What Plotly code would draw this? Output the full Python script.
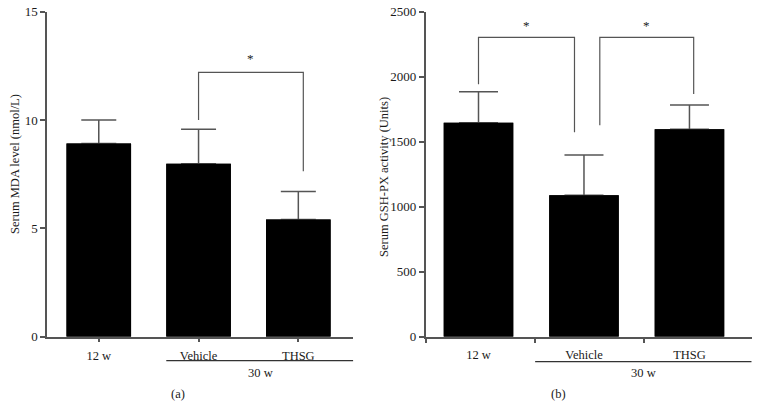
import plotly.graph_objects as go

# ---------------- data ----------------
groups = ["12 w", "Vehicle", "THSG"]
mda_mean = [8.92, 7.98, 5.41]
mda_err = [1.08, 1.60, 1.29]
gsh_mean = [1646, 1088, 1595]
gsh_err = [239, 310, 187]
mda_ticks = [0, 5, 10, 15]
gsh_ticks = [0, 500, 1000, 1500, 2000, 2500]
# significance brackets: (x_left, x_right, y_left_end, y_right_end, y_top)
mda_brackets = [(1.0, 2.05, 10.0, 7.64, 12.2)]
gsh_brackets = [(0.0, 0.91, 1941, 1572, 2303), (1.15, 2.04, 1626, 1867, 2303)]
sig_label = "*"
group_label = "30 w"
panel_labels = ["(a)", "(b)"]
ytitles = ["Serum MDA level (nmol/L)", "Serum GSH-PX activity (Units)"]

# ---------------- style ----------------
FONT = "Liberation Serif"
AX = "#555555"
TXT = "#1a1a1a"
W, H = 760, 420
xpos = list(range(len(groups)))

fig = go.Figure()

def add_bars(means, errs, xa, ya, width, capw):
    # bar with error bar (upper only)
    fig.add_trace(go.Bar(
        x=xpos, y=means, width=width, marker=dict(color="black", line=dict(width=0)),
        error_y=dict(type="data", array=errs, arrayminus=[0] * len(errs), symmetric=False,
                     color=AX, thickness=1.5, width=capw),
        xaxis=xa, yaxis=ya, showlegend=False, hoverinfo="skip"))
    # same bar again on top, hiding the lower cap of the error bar
    fig.add_trace(go.Bar(
        x=xpos, y=means, width=width, marker=dict(color="black", line=dict(width=0)),
        xaxis=xa, yaxis=ya, showlegend=False, hoverinfo="skip"))

def add_brackets(brs, xa, ya, shift):
    for (xl, xr, yl, yr, yt) in brs:
        fig.add_trace(go.Scatter(
            x=[xl, xl, xr, xr], y=[yl, yt, yt, yr], mode="lines",
            line=dict(color=AX, width=1.2), xaxis=xa, yaxis=ya,
            showlegend=False, hoverinfo="skip", cliponaxis=False))
        fig.add_annotation(x=(xl + xr) / 2, y=yt, xref=xa, yref=ya, text=sig_label,
                           xanchor="center", yanchor="middle",
                           showarrow=False, yshift=shift, font=dict(family=FONT, size=13, color=TXT))

add_bars(mda_mean, mda_err, "x", "y", 0.647, 17.5)
add_bars(gsh_mean, gsh_err, "x2", "y2", 0.659, 19.5)
add_brackets(mda_brackets, "x", "y", 14)
add_brackets(gsh_brackets, "x2", "y2", 12)

ydom = [1 - 336.7 / H, 1 - 11.7 / H]
common_y = dict(showline=True, linecolor=AX, linewidth=1.5, ticks="outside", ticklen=5,
                tickcolor=AX, tickwidth=1.5, showgrid=False, zeroline=False, automargin=False,
                tickfont=dict(family=FONT, size=13, color=TXT), domain=ydom)
common_x = dict(showline=True, linecolor=AX, linewidth=1.5, showgrid=False, zeroline=False,
                tickmode="array", tickvals=xpos, ticktext=groups, automargin=False,
                tickfont=dict(family=FONT, size=12.5, color=TXT))

fig.update_layout(
    template="none",
    width=W, height=H, margin=dict(l=0, r=0, t=0, b=0, pad=0),
    plot_bgcolor="white", paper_bgcolor="white", barmode="overlay",
    xaxis=dict(common_x, domain=[47 / W, 353.3 / W], range=[-0.519, 2.551],
               ticks="outside", ticklen=4, tickcolor=AX, tickwidth=1.5, anchor="y",
               ticklabelstandoff=3),
    yaxis=dict(common_y, range=[0, 15], tickvals=mda_ticks, anchor="x"),
    xaxis2=dict(common_x, domain=[425.7 / W, 751.7 / W], range=[-0.5005, 2.590],
                ticks="", anchor="y2", ticklabelstandoff=6,
                minor=dict(tickmode="array", tickvals=[-0.5, 0.537, 1.565], ticks="outside",
                           ticklen=5, tickcolor=AX, tickwidth=1.5, showgrid=False)),
    yaxis2=dict(common_y, range=[0, 2500], tickvals=gsh_ticks, anchor="x2"),
)

# group line under the 30 w categories
fig.add_shape(type="line", xref="x", yref="paper", x0=1 - 0.647 / 2, x1=2.551,
              y0=1 - 360.7 / H, y1=1 - 360.7 / H, line=dict(color="#333333", width=1.2))
fig.add_shape(type="line", xref="x2", yref="paper", x0=0.537, x1=2.590,
              y0=1 - 361.7 / H, y1=1 - 361.7 / H, line=dict(color="#333333", width=1.2))

def paper_text(xc, yc, lbl, angle=0):
    fig.add_annotation(x=xc / W, y=1 - yc / H, xref="paper", yref="paper", text=lbl,
                       xanchor="center", yanchor="middle", textangle=angle,
                       showarrow=False, font=dict(family=FONT, size=12.5, color=TXT))

for xc in (260, 643):
    paper_text(xc, 372.5, group_label)
for xc, lbl in zip((178, 558), panel_labels):
    paper_text(xc, 394, lbl)
for xc, yc, lbl in zip((15, 384), (164, 177), ytitles):
    paper_text(xc, yc, lbl, -90)

fig.write_html("out.html", config={"displayModeBar": False},
               post_script="document.body.style.margin='0';document.body.style.overflow='hidden';")
